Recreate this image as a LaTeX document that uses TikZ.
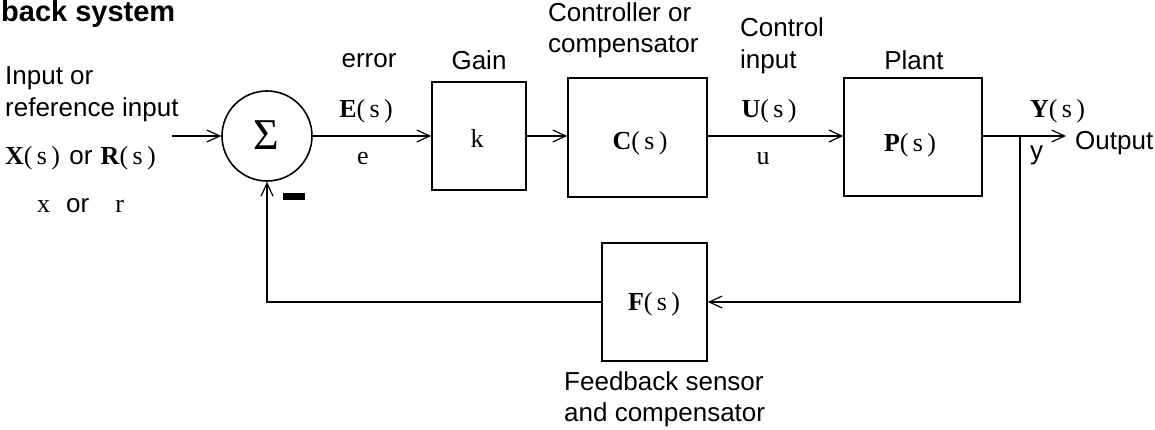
\documentclass[tikz,border=0pt]{standalone}
\usepackage{fontspec}
\setmainfont{Liberation Serif}
\setsansfont{Liberation Sans}
\usetikzlibrary{arrows.meta}
\newcommand{\tfn}[1]{\textbf{#1}(\,s\,)}
\tikzset{
  lbl/.style={font=\sffamily\fontsize{26}{31}\selectfont, inner sep=0pt, anchor=base west},
  lblc/.style={font=\sffamily\fontsize{26}{31}\selectfont, inner sep=0pt, anchor=base},
  mth/.style={font=\rmfamily\fontsize{26}{31}\selectfont, inner sep=0pt, anchor=base},
  blk/.style={draw, line width=1.6pt, inner sep=0pt},
  wire/.style={line width=1.6pt},
  arr/.style={wire, -{Straight Barb[length=13pt,width=12pt,line width=1.2pt]}},
}
\begin{document}
\begin{tikzpicture}[x=1pt,y=-1pt]
\useasboundingbox (0,0) rectangle (1155,430);
% title (cropped)
\node[font=\sffamily\bfseries\fontsize{29}{35}\selectfont, inner sep=0pt, anchor=base west] (title) at (1,22) {back system};

% blocks
\node[blk, circle, minimum size=90pt] (sum) at (267,136) {};
\node[inner sep=0pt, font=\rmfamily\fontsize{44}{48}\selectfont, anchor=base] (sigma) at (266,150) {Σ};
\node[blk, minimum width=94pt, minimum height=108pt] (k) at (479,136) {};
\node[blk, minimum width=139pt, minimum height=119pt] (C) at (637.5,137.5) {};
\node[blk, minimum width=138pt, minimum height=118pt] (P) at (913,137) {};
\node[blk, minimum width=105pt, minimum height=118pt] (F) at (654.5,302) {};
\node[fill=black, inner sep=0pt, minimum width=22pt, minimum height=7pt] (minus) at (294,196.5) {};

% coordinates
\coordinate (in) at (172,136);
\coordinate (out) at (1066,136);
\coordinate (br) at (1020,136);

% connectors
\draw[arr] (in) -- (sum.west);
\draw[arr] (sum.east) -- (sum.east -| k.west);
\draw[arr] (k.east |- sum.east) -- (sum.east -| C.west);
\draw[arr] (C.east |- sum.east) -- (sum.east -| P.west);
\draw[arr] (P.east |- sum.east) -- (out);
\draw[arr] (br) |- (F.east);
\draw[arr] (F.west) -| (sum.south);

% left labels
\node[lbl] (l1) at (5,85) {Input or};
\node[lbl] (l2) at (5,117) {reference input};
\node[lbl] (l3) at (5,165) {{\rmfamily\tfn{X}}\hspace{2pt} or \hspace{1pt}{\rmfamily\tfn{R}}};
\node[lbl] (l4) at (37,213) {{\rmfamily x}\hspace{16pt}or\hspace{26pt}{\rmfamily r}};

% error
\node[lblc] (err) at (369,68) {error};
\node[mth] (E) at (366,118) {\tfn{E}};
\node[mth] (e) at (363,165) {e};

% gain
\node[lblc] (gain) at (479,70) {Gain};
\node[mth] (kk) at (477,148) {k};

% controller
\node[lbl] (c1) at (548,22) {Controller or};
\node[lbl] (c2) at (548,53) {compensator};
\node[mth] (Cs) at (640,150) {\tfn{C}};

% control input
\node[lbl] (u1) at (740,37) {Control};
\node[lbl] (u2) at (740,69) {input};
\node[mth] (U) at (769,118) {\tfn{U}};
\node[mth] (u) at (763,165) {u};

% plant
\node[lblc] (plant) at (914,70) {Plant};
\node[mth] (Ps) at (910,152) {\tfn{P}};

% output
\node[mth, anchor=base west] (Y) at (1030,118) {\tfn{Y}};
\node[lbl] (outl) at (1075,150) {Output};
\node[lbl] (y) at (1030,160) {y};

% feedback
\node[mth] (Fs) at (654,310) {\tfn{F}};
\node[lbl] (f1) at (564,390) {Feedback sensor};
\node[lbl] (f2) at (564,421) {and compensator};
\end{tikzpicture}
\end{document}
